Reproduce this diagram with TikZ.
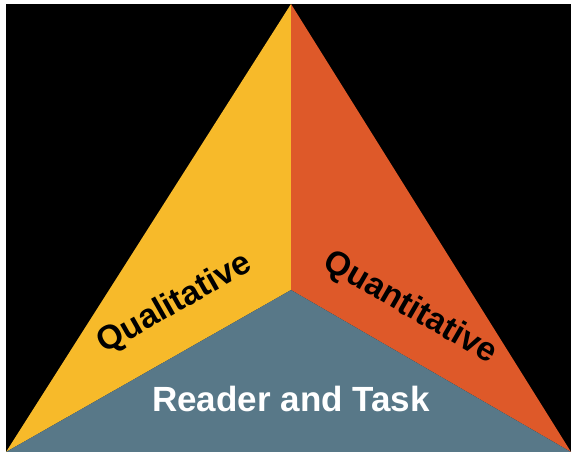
\documentclass[tikz,border=0pt]{standalone}
\usepackage{fontspec}
\setmainfont{Liberation Sans}
\usepackage{tikz}

\definecolor{qualyellow}{RGB}{247,186,42}
\definecolor{quanorange}{RGB}{222,89,41}
\definecolor{taskblue}{RGB}{88,120,136}

\begin{document}
\begin{tikzpicture}[x=1pt,y=1pt,lab/.style={font=\fontsize{33.5}{33.5}\selectfont\bfseries, inner sep=0pt}]

	\useasboundingbox (0,0) rectangle (573,454);
	\fill[white] (0,0) rectangle (573,454);
	\fill[black] (6,2) rectangle (571,450);

	% corners of the triangle
	\coordinate (top) at (291,450);
	\coordinate (left) at (6,2);
	\coordinate (right) at (571,2);
	\coordinate (mid) at (291,164);

	% Draw the three parts
	\fill[qualyellow] (top) -- (mid) -- (left) -- cycle;
	\fill[quanorange] (top) -- (right) -- (mid) -- cycle;
	\fill[taskblue] (left) -- (mid) -- (right) -- cycle;

	% Labels
	\node[lab, rotate=29.6] (qual) at (175,150) {Qualitative};
	\node[lab, rotate=-30] (quan) at (410,146) {Quantitative};
	\node[lab, white, font=\fontsize{35}{35}\selectfont\bfseries] (task) at (291,55) {Reader and Task};

\end{tikzpicture}
\end{document}
